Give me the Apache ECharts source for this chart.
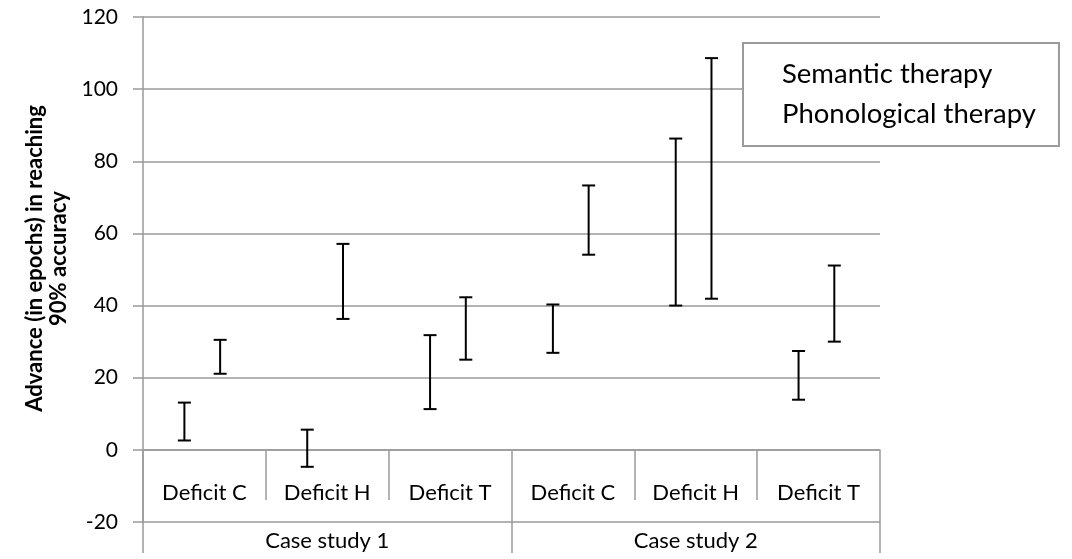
<!DOCTYPE html>
<html>
<head>
<meta charset="utf-8">
<script src="https://cdn.jsdelivr.net/npm/echarts@6/dist/echarts.min.js"></script>
<style>
html,body{margin:0;padding:0;background:#fff;}
#chart{width:1072px;height:559px;}
</style>
</head>
<body>
<div id="chart"></div>
<script>
// ---- data ----
var categories = ['Deficit C', 'Deficit H', 'Deficit T', 'Deficit C', 'Deficit H', 'Deficit T'];
var groups = ['Case study 1', 'Case study 2'];
var seriesNames = ['Semantic therapy', 'Phonological therapy'];
var semanticLow  = [2.6, -4.7, 11.3, 26.9, 40.0, 13.9];
var semanticHigh = [13.1, 5.6, 31.8, 40.3, 86.3, 27.4];
var phonoLow     = [21.1, 36.3, 25.0, 54.1, 41.9, 30.0];
var phonoHigh    = [30.5, 57.1, 42.3, 73.3, 108.6, 51.1];
var yTicks = [-20, 0, 20, 40, 60, 80, 100, 120];
var yTitle = 'Advance (in epochs) in reaching\n90% accuracy';

var FONT = 'Lato, Carlito, "Open Sans", sans-serif';
var GRID_COLOR = '#9a9a9a';

function buildData(low, high) {
  return low.map(function (v, i) { return [i, v, high[i]]; });
}

function errorBar(offsetFrac) {
  return function (params, api) {
    var idx = api.value(0);
    var band = api.size([1, 0])[0];
    var lowPt = api.coord([idx, api.value(1)]);
    var highPt = api.coord([idx, api.value(2)]);
    var x = lowPt[0] + offsetFrac * band;
    var cap = 6.5;
    var style = { stroke: '#000', lineWidth: 2 };
    return {
      type: 'group',
      children: [
        { type: 'line', shape: { x1: x, y1: lowPt[1], x2: x, y2: highPt[1] }, style: style },
        { type: 'line', shape: { x1: x - cap, y1: lowPt[1], x2: x + cap, y2: lowPt[1] }, style: style },
        { type: 'line', shape: { x1: x - cap, y1: highPt[1], x2: x + cap, y2: highPt[1] }, style: style }
      ]
    };
  };
}

var chart = echarts.init(document.getElementById('chart'));
chart.setOption({
  animation: false,
  backgroundColor: '#fff',
  grid: { left: 143, right: 192, top: 17, bottom: 37, containLabel: false, outerBoundsMode: 'none' },
  legend: {
    orient: 'vertical',
    left: 743, top: 43,
    data: seriesNames,
    icon: 'rect',
    itemWidth: 24, itemHeight: 30,
    itemGap: 10,
    itemStyle: { opacity: 0 },
    padding: [16, 23, 17, 10],
    borderColor: GRID_COLOR, borderWidth: 2,
    backgroundColor: '#fff',
    textStyle: { fontFamily: FONT, fontSize: 27.5, color: '#000' },
    selectedMode: false
  },
  xAxis: [
    {
      type: 'category',
      data: categories,
      position: 'bottom',
      offset: -72,
      axisLine: { onZero: false, lineStyle: { color: GRID_COLOR, width: 1.5 } },
      axisTick: { show: true, length: 50, inside: false, lineStyle: { color: GRID_COLOR, width: 1.5 } },
      axisLabel: { margin: 32, fontFamily: FONT, fontSize: 22, color: '#000', interval: 0 },
      splitLine: { show: false }
    },
    {
      type: 'category',
      data: groups,
      position: 'bottom',
      offset: -72,
      axisLine: { show: false, onZero: false },
      axisTick: { show: true, length: 103, lineStyle: { color: GRID_COLOR, width: 1.5 } },
      axisLabel: { margin: 80, fontFamily: FONT, fontSize: 22, color: '#000', interval: 0 },
      splitLine: { show: false }
    }
  ],
  yAxis: {
    type: 'value',
    min: yTicks[0], max: yTicks[yTicks.length - 1], interval: 20,
    name: yTitle,
    nameLocation: 'middle',
    nameGap: 72,
    nameTextStyle: { fontFamily: FONT, fontSize: 22, fontWeight: 'bold', color: '#000', lineHeight: 24, padding: [0, 0, 0, 22] },
    axisLine: { show: true, lineStyle: { color: GRID_COLOR, width: 1.5 } },
    axisTick: { show: true, length: 10, lineStyle: { color: GRID_COLOR, width: 1.5 } },
    axisLabel: { margin: 25, fontFamily: FONT, fontSize: 21, color: '#000' },
    splitLine: { show: true, lineStyle: { color: GRID_COLOR, width: 1.5 } }
  },
  series: [
    {
      name: seriesNames[0],
      type: 'custom',
      xAxisIndex: 0,
      renderItem: errorBar(-0.163),
      encode: { x: 0, y: [1, 2] },
      data: buildData(semanticLow, semanticHigh),
      z: 10
    },
    {
      name: seriesNames[1],
      type: 'custom',
      xAxisIndex: 0,
      renderItem: errorBar(0.128),
      encode: { x: 0, y: [1, 2] },
      data: buildData(phonoLow, phonoHigh),
      z: 10
    }
  ]
});
</script>
</body>
</html>
